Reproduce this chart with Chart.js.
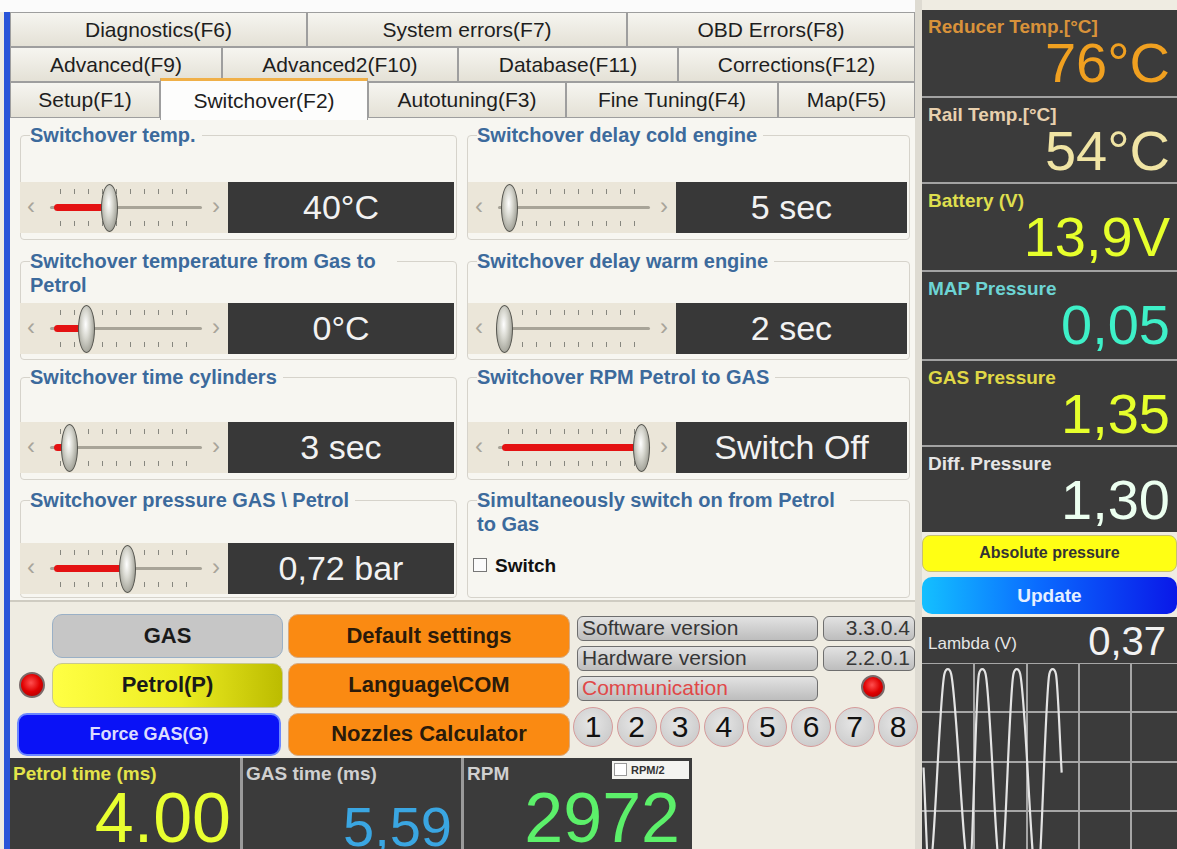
<!DOCTYPE html>
<html><head><meta charset="utf-8">
<script src="https://cdn.jsdelivr.net/npm/chart.js@4/dist/chart.umd.min.js"></script>
<style>
html,body{margin:0;padding:0;}
body{width:1177px;height:849px;position:relative;overflow:hidden;background:#efece2;font-family:"Liberation Sans",Arial,sans-serif;}
.a{position:absolute;box-sizing:border-box;white-space:nowrap;}
.tab{background:linear-gradient(#f6f5f0,#e4e1d6);border:1px solid #9e9e9e;color:#1e1e1e;font-size:21px;text-align:center;}
.tab.on{background:#fdfdfc;border-top:3px solid #f0b048;border-bottom:none;}
.grp{border:1px solid #d6d3cb;border-radius:4px;}
.lbl{color:#3c6a9c;font-weight:bold;font-size:20px;background:#f7f6f1;padding-right:6px;line-height:24px;white-space:normal;}
.sl{background:#ebe6d9;}
.val{background:#383838;color:#f2f2f2;font-size:34px;text-align:center;}
.thumb{width:17px;height:48px;border-radius:50%;border:1.5px solid #55554f;background:radial-gradient(ellipse at 45% 40%,#ffffff 0%,#d8d8d0 35%,#9a9a90 80%,#707068 100%);}
.ticks{height:5px;background:repeating-linear-gradient(90deg,#86867e 0 1px,transparent 1px 14px);}
.g{background:#3b3b3b;}
.btn{border-radius:10px;text-align:center;font-weight:bold;font-size:22px;color:#2a1a0a;}
.vb{border-radius:6px;border:1.5px solid #6e6e6e;background:linear-gradient(#e2e2e2,#bdbdbd);font-size:21px;color:#363636;padding:0 4px;}
.cyl{width:40px;height:40px;border-radius:50%;border:1.5px solid #d59a9a;background:radial-gradient(circle at 45% 40%,#e6e6e6,#c4c4c4);text-align:center;line-height:38px;font-size:30px;color:#111;}
.led{border-radius:50%;background:radial-gradient(circle at 45% 40%,#ff5050,#e00000 50%,#9a0000);border:2px solid #7a6a6a;}
</style></head><body>
<div id="root"></div>
<div class="a" id="lw" style="left:922px;top:663px;width:255px;height:186px;"><canvas id="lambda"></canvas></div>
<script>
// ---------- data ----------
const tabRow1 = ["Diagnostics(F6)","System errors(F7)","OBD Errors(F8)"];
const tabRow2 = ["Advanced(F9)","Advanced2(F10)","Database(F11)","Corrections(F12)"];
const tabRow3 = ["Setup(F1)","Switchover(F2)","Autotuning(F3)","Fine Tuning(F4)","Map(F5)"];
const activeTab = "Switchover(F2)";
const settingLabels = ["Switchover temp.","Switchover delay cold engine","Switchover temperature from Gas to Petrol","Switchover delay warm engine","Switchover time cylinders","Switchover RPM Petrol to GAS","Switchover pressure GAS \\ Petrol","Simultaneously switch on from Petrol to Gas"];
const settingValues = ["40°C","5 sec","0°C","2 sec","3 sec","Switch Off","0,72 bar",null];
const sliderLevels = [0.39,0.04,0.22,0.0,0.10,1.0,0.52,null];
const checkboxLabel = "Switch";
const gaugeLabels = ["Reducer Temp.[°C]","Rail Temp.[°C]","Battery (V)","MAP Pressure","GAS Pressure","Diff. Pressure"];
const gaugeValues = ["76°C","54°C","13,9V","0,05","1,35","1,30"];
const pressureButtons = ["Absolute pressure","Update"];
const modeButtons = ["GAS","Petrol(P)","Force GAS(G)"];
const actionButtons = ["Default settings","Language\\COM","Nozzles Calculator"];
const versionLabels = ["Software version","Hardware version","Communication"];
const versionValues = ["3.3.0.4","2.2.0.1"];
const cylinders = ["1","2","3","4","5","6","7","8"];
const timeLabels = ["Petrol time (ms)","GAS time (ms)","RPM"];
const timeValues = ["4.00","5,59","2972"];
const rpmHalfLabel = "RPM/2";
const lambdaLabel = "Lambda (V)";
const lambdaValue = "0,37";
const lambdaTime  = [0.29,1.35,4.29,4.94,5.58,9.08,10.9,11.54,12.17,15.1,17.5,18.13,18.79,22.04,24.37,25.0,25.63,26.73];
const lambdaVolts = [0.576,0.151,0.955,0.975,0.955,0.147,0.955,0.975,0.955,0.147,0.955,0.975,0.955,0.098,0.955,0.975,0.955,0.555];
const xGridTicks = [10,20,30,40];
const yGridTicks = [0.4,0.6,0.8,1.0];

// ---------- layout helpers ----------
const root = document.getElementById('root');
function box(x,y,w,h,cls,style,text){
  const d=document.createElement('div');
  d.className='a '+(cls||'');
  d.style.left=x+'px';d.style.top=y+'px';
  if(w!=null)d.style.width=w+'px';
  if(h!=null){d.style.height=h+'px';}
  if(style)d.style.cssText+=';'+style;
  if(text!=null)d.textContent=text;
  root.appendChild(d);return d;
}
function ctext(x,cy,w,size,text,style,lhf){ // vertically centred text line (digit centre at cy)
  lhf=lhf||1;
  const off=(lhf-1.117)/2*size+0.905*size-0.358*size;
  return box(x,Math.round(cy-off),w,Math.round(size*lhf),'', 'font-size:'+size+'px;line-height:'+Math.round(size*lhf)+'px;'+(style||''),text);
}

// background pieces
box(0,0,922,12,'','background:#fbfbfb');
box(4,12,6,837,'','background:#2a55d8');
box(10,118,905,482,'','background:#f7f6f1');
box(10,600,905,2,'','background:#cfccc2');
box(915,0,7,849,'','background:#dedbd2');

// tabs
const rowEdges=[[10,307,627,915],[10,222,458,678,915],[10,160,368,566,778,915]];
const rowY=[[12,35],[47,35],[82,36]];
[tabRow1,tabRow2,tabRow3].forEach((row,r)=>{
  row.forEach((t,i)=>{
    const x0=rowEdges[r][i],x1=rowEdges[r][i+1];
    const on=t===activeTab;
    const y=on?rowY[r][0]-4:rowY[r][0], h=on?rowY[r][1]+6:rowY[r][1];
    box(x0,y,x1-x0,h,'tab'+(on?' on':''),'line-height:'+(h-(on?3:2))+'px',t);
  });
});

// settings group boxes
const cols=[{x:20,w:437},{x:467,w:443}];
const rows=[{ly:135,sy:182,by:240},{ly:261,sy:303,by:360},{ly:377,sy:422,by:480},{ly:500,sy:543,by:598}];
settingLabels.forEach((lab,i)=>{
  const c=cols[i%2], r=rows[Math.floor(i/2)];
  box(c.x,r.ly,c.w,r.by-r.ly,'grp');
  box(c.x+10,r.ly-12,null,null,'lbl','max-width:'+(c.w-70)+'px',lab);
  if(settingValues[i]!=null){
    const sx=c.x+(i%2?1:0), sw=208;
    box(sx,r.sy,sw,51,'sl');
    box(sx+7,r.sy+9,14,30,'', 'color:#a8a49a;font-size:24px;line-height:30px',"‹");
    box(sx+192,r.sy+9,14,30,'', 'color:#a8a49a;font-size:24px;line-height:30px',"›");
    box(sx+40,r.sy+7,140,5,'ticks');
    box(sx+40,r.sy+39,140,5,'ticks');
    box(sx+30,r.sy+24,152,3,'', 'background:#a8a498;border-radius:2px');
    const tx=sx+36+sliderLevels[i]*137;
    if(tx-(sx+34)>6) box(sx+34,r.sy+22,tx-(sx+34),7,'', 'background:#e41212;border-radius:4px');
    box(tx-8.5,r.sy+2,null,null,'thumb');
    const vx=sx+sw, vw=c.x+c.w-3-vx;
    box(vx,r.sy,vw,51,'val','line-height:51px',settingValues[i]);
  } else {
    box(c.x+6,r.sy+15,14,14,'', 'border:1.5px solid #777;background:#fbfbfb');
    ctext(c.x+28,r.sy+22,100,19,checkboxLabel,'font-weight:bold;color:#111');
  }
});

// right gauges
const gTop=[10,98,184,272,361,447,532];
const gLabCol=['#d9923a','#e8d0ae','#dede4e','#6dd4d4','#e0d846','#e6e6e6'];
const gValCol=['#f0a020','#f0e4a4','#e6ff2c','#3ef0c8','#e6ff2c','#ecfff0'];
box(922,10,255,522,'g');
gaugeLabels.forEach((lab,i)=>{
  const t=gTop[i];
  if(i>0) box(922,t-2,255,2,'', 'background:#a2a2a2');
  ctext(928,t+16,240,19,lab,'font-weight:bold;color:'+gLabCol[i]);
  ctext(922,t+52,248,56,gaugeValues[i],'text-align:right;color:'+gValCol[i],0.85);
});
box(922,535,255,37,'btn','background:#ffff14;border:1.5px solid #c8c070;border-radius:8px;font-size:16px;line-height:34px;color:#333',pressureButtons[0]);
box(922,577,255,37,'btn','background:linear-gradient(90deg,#14c0ff,#0a6cff 45%,#0a18e8);border-radius:10px;font-size:19px;line-height:37px;color:#e6efff',pressureButtons[1]);

// lambda panel
box(922,617,255,232,'g');
ctext(928,643,120,17,lambdaLabel,'color:#e6e6e6');
ctext(1000,641,166,40,lambdaValue,'text-align:right;color:#f2f2f2',0.9);

// mode buttons
box(52,614,231,44,'btn','background:#c6c6c6;border:1.5px solid #9ab0c6;line-height:41px;color:#1a1a1a',modeButtons[0]);
box(52,663,231,45,'btn','background:linear-gradient(90deg,#ffff44,#eded22 55%,#bcbc00);border:1.5px solid #c8c890;line-height:42px;color:#1a1a1a',modeButtons[1]);
box(17,713,264,43,'btn','background:#0a12f6;border:2px solid #6a86ff;font-size:18px;line-height:39px;color:#dcdcff',modeButtons[2]);
box(19,672,26,26,'led');
actionButtons.forEach((t,i)=>{
  box(288,[614,663,713][i],282,[44,45,43][i],'btn','background:#fa8a12;border:1.5px solid #d8aa80;line-height:'+([41,42,40][i])+'px',t);
});

// versions
versionLabels.forEach((t,i)=>{
  const y=[616,646,676][i];
  box(577,y,241,25,'vb','line-height:22px'+(i==2?';color:#e04848':''),t);
  if(i<2) box(823,y,92,25,'vb','text-align:right;line-height:22px',versionValues[i]);
});
box(861,675,24,24,'led');
cylinders.forEach((t,i)=>{
  box(573+i*43.6,707,null,null,'cyl','',t);
});

// bottom gauges
const bx=[10,243,464,692];
const tLabCol=['#e4e44a','#d0d0d0','#d0d0d0'];
const tValCol=['#e8ff30','#3aa6e2','#5cf06a'];
const tValSize=[70,56,70];
const tValCy=[817,826,817];
timeLabels.forEach((t,i)=>{
  box(bx[i],758,bx[i+1]-bx[i]-(i<2?3:0),91,'g');
  ctext(bx[i]+3,773,200,19,t,'font-weight:bold;color:'+tLabCol[i]);
  ctext(bx[i],tValCy[i],bx[i+1]-bx[i]-12,tValSize[i],timeValues[i],'text-align:right;color:'+tValCol[i],0.8);
});
box(240,758,3,91,'', 'background:#9a9a9a');
box(461,758,3,91,'', 'background:#9a9a9a');
box(612,761,77,18,'', 'background:#f4f4f0');
box(614,763,13,13,'', 'background:#fff;border:1px solid #999');
ctext(631,770,56,11,rpmHalfLabel,'font-weight:bold;color:#333');

// ---------- lambda chart ----------
new Chart(document.getElementById('lambda'),{
  type:'line',
  data:{datasets:[{data:lambdaTime.map((t,i)=>({x:t,y:lambdaVolts[i]})),borderColor:'#e4e4e4',borderWidth:2.2,pointRadius:0,cubicInterpolationMode:'monotone',fill:false}]},
  options:{responsive:true,maintainAspectRatio:false,animation:false,events:[],layout:{padding:0},
    plugins:{legend:{display:false},tooltip:{enabled:false}},
    scales:{
      x:{type:'linear',min:0,max:48.8,afterBuildTicks:a=>{a.ticks=xGridTicks.map(v=>({value:v}));},
         ticks:{display:false},grid:{color:'#a6a6a6',lineWidth:2,drawTicks:false},border:{display:false}},
      y:{type:'linear',min:0.245,max:1.0,afterBuildTicks:a=>{a.ticks=yGridTicks.map(v=>({value:v}));},
         ticks:{display:false},grid:{color:'#a6a6a6',lineWidth:2,drawTicks:false},border:{display:false}}
    }}
});
</script>
</body></html>
